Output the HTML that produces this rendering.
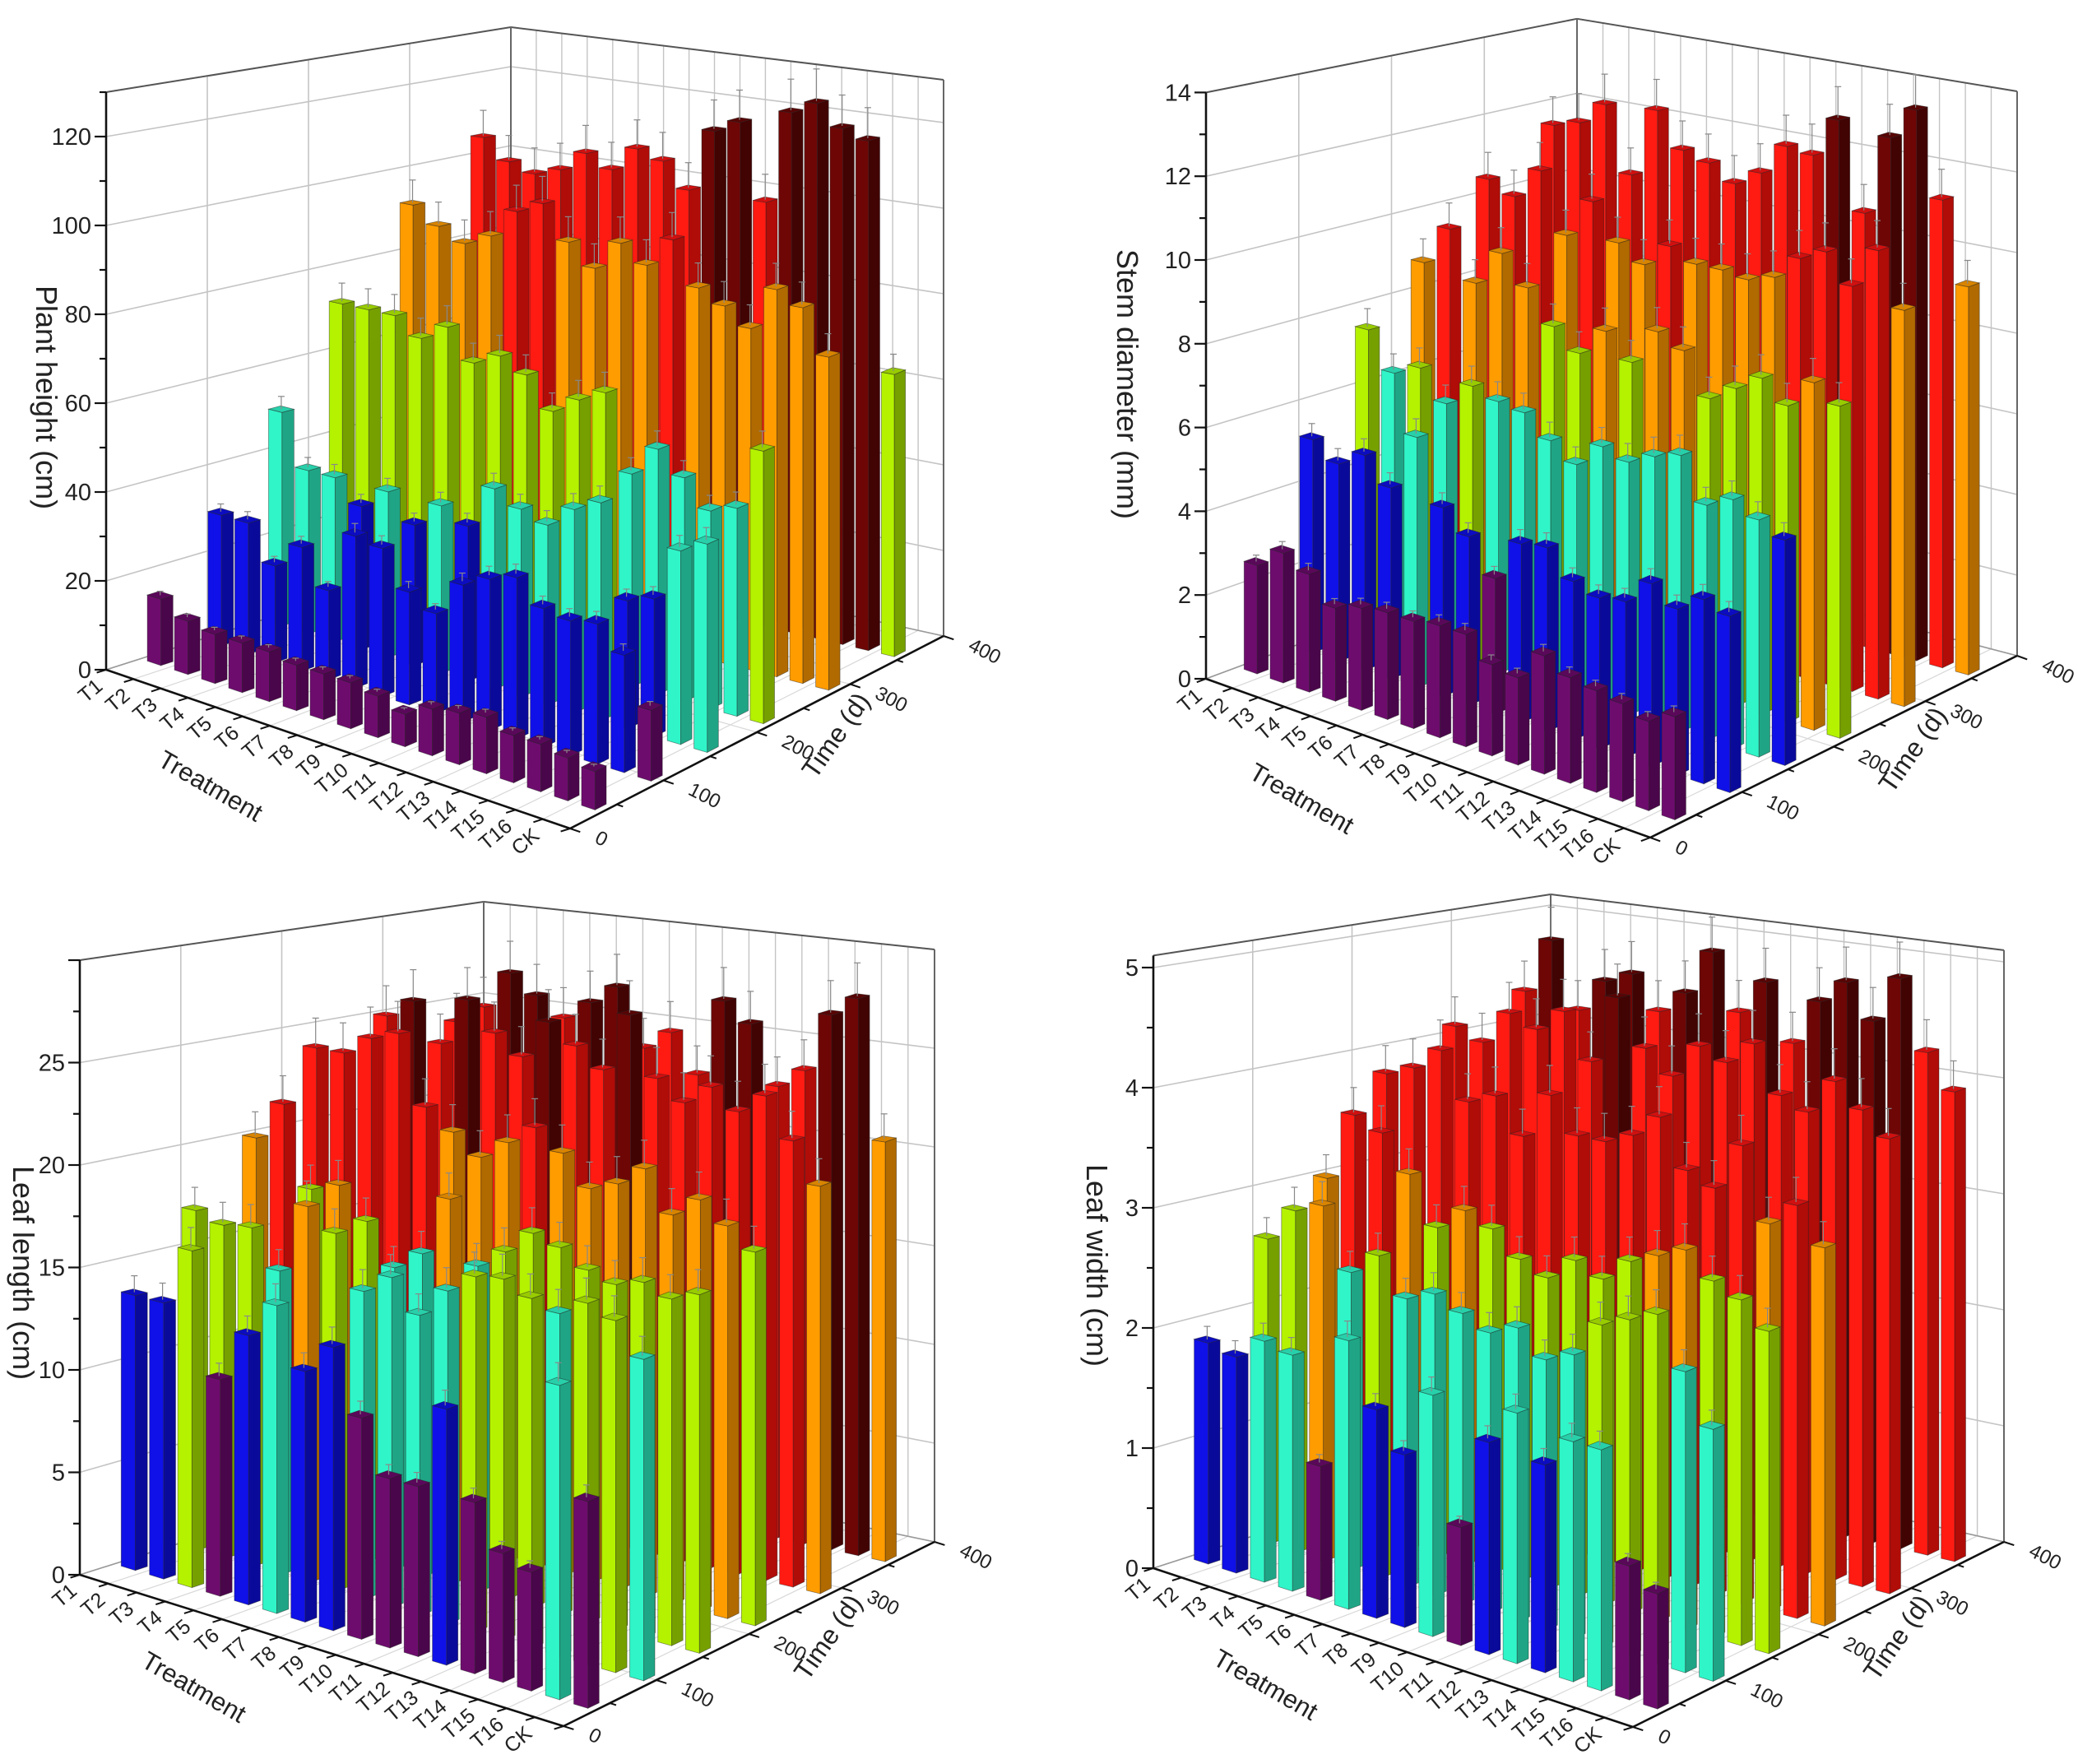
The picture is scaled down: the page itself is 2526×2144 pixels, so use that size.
<!DOCTYPE html>
<html><head><meta charset="utf-8"><style>
html,body{margin:0;padding:0;background:#fff;}
svg{display:block;font-family:"Liberation Sans",Arial,sans-serif;}
</style></head><body>
<svg id="fig" width="2526" height="2144" viewBox="0 0 2526 2144" xmlns="http://www.w3.org/2000/svg"></svg>
<script>
// ---- shared data ----
const treatments = ["T1","T2","T3","T4","T5","T6","T7","T8","T9","T10","T11","T12","T13","T14","T15","T16","CK"];
const times = [40,100,160,220,290,360];
const timeTicks = [0,100,200,300,400];

// Panel 1: plant height (cm)
const p1Ticks = [0,20,40,60,80,100,120];
const p1Cuts = [18.6,37,56,74,93,111];
const p1t1 = [15,12,11,11,11,10,10,10,9,7,10,11,12,10,10,9,8];
const p1t2 = [30,30,22,28,20,34,33,25,22,30,33,35,30,29,30,25,15];
const p1t3 = [50,38,38,33,38,32,38,35,45,42,40,45,48,28,30,42,45];
const p1t4 = [72,72,72,68,72,65,68,65,58,62,65,48,55,50,44,46,60];
const p1t5 = [92,88,85,88,95,98,90,85,92,88,95,85,82,78,88,85,75];
const p1t6 = [105,100,98,100,105,102,108,106,100,115,118,100,122,125,120,118,65];

// Panel 2: stem diameter (mm)
const p2Ticks = [0,2,4,6,8,10,12,14];
const p2Cuts = [3.3,5.3,6.8,8.2,9.8,12.7];
const p2t1 = [2.6,3.1,2.8,2.2,2.4,2.5,2.5,2.6,2.6,2.1,2.0,2.7,2.4,2.3,2.2,2.0,2.3];
const p2t2 = [5.2,4.8,5.2,4.6,6.0,4.5,4.0,3.2,4.2,4.3,3.7,3.5,3.6,4.2,3.8,4.2,4.0];
const p2t3 = [7.5,6.6,6.9,6.2,6.8,6.6,6.5,6.0,5.6,6.2,6.0,6.3,6.5,5.5,5.8,5.5,5.2];
const p2t4 = [8.8,9.8,8.6,9.5,8.8,8.0,7.5,8.2,7.6,8.5,8.2,7.2,7.6,8.0,7.5,8.2,7.8];
const p2t5 = [10.5,10.2,11.0,9.5,10.5,9.6,9.2,9.8,9.5,9.5,9.4,9.6,10.2,10.5,9.8,10.8,9.5];
const p2t6 = [11.5,11.7,12.3,10.6,12.4,11.5,11.3,10.9,11.3,12.1,12.0,13.0,10.8,12.8,13.6,11.5,9.5];

// Panel 3: leaf length (cm)
const p3Ticks = [0,5,10,15,20,25];
const p3Cuts = [11.5,14.3,16.3,18.5,21.5,26];
const p3t1 = [13.5,13.5,16.4,10.5,13,14.8,12,13.5,10.5,8,8,12,8,6,5.5,14.5,9.5];
const p3t2 = [17,16.6,16.8,15,18.5,17.5,15,16,14.5,16,17,17.2,16.6,16.2,17,16.5,15];
const p3t3 = [20,22,18,18.5,17,15,16,19,16,17,18.2,17.8,17,16.6,17,16.5,17];
const p3t4 = [24,24,25,25.5,22,21,20,21,22,21,19.5,20,21,19,20,19,18];
const p3t5 = [25,26,24,26.5,25,24,26,25,24,27,24,23,24,23,24,22,20];
const p3t6 = [24,25,27,26,25,26,27,24,25,23,27,26,23,24,27,28,21];

// Panel 4: leaf width (cm)
const p4Ticks = [0,1,2,3,4,5];
const p4Cuts = [1.2,1.9,2.6,3.0,3.4,4.5];
const p4t1 = [1.85,1.8,2.0,1.95,1.1,2.2,1.7,1.4,1.95,0.95,1.7,2.0,1.65,1.9,1.9,1.05,0.9];
const p4t2 = [2.6,2.9,3.0,2.5,2.7,2.4,2.5,2.4,2.3,2.4,2.2,2.3,2.6,2.7,2.8,2.4,2.0];
const p4t3 = [3.0,3.6,3.5,3.2,2.8,3.0,2.9,2.7,2.6,2.8,2.7,2.9,3.0,3.1,2.9,2.8,2.6];
const p4t4 = [3.8,3.9,4.1,3.7,3.8,3.5,3.9,3.6,3.6,3.7,3.9,3.5,3.4,3.8,3.2,3.4,3.1];
const p4t5 = [4.1,4.0,4.3,4.2,4.4,4.0,4.6,4.2,4.0,4.3,4.2,4.4,4.0,3.9,4.2,4.0,3.8];
const p4t6 = [4.3,4.8,4.2,4.5,4.6,4.3,4.5,4.9,4.4,4.7,4.2,4.6,4.8,4.5,4.9,4.3,4.0];

const palette = [
  ["#6e0c6e","#4a064a","#5a085a"],
  ["#1010e8","#0a0a9a","#0c0cc0"],
  ["#30f5c8","#1fa585","#28d0aa"],
  ["#b4f200","#76a000","#98cc00"],
  ["#ff9c00","#b06a00","#d88400"],
  ["#ff1a12","#b00c08","#d01010"],
  ["#6e0606","#420303","#580404"]
];

const panels = [
  {name:"plant-height", label:"Plant height (cm)", rows:[p1t1,p1t2,p1t3,p1t4,p1t5,p1t6], ticks:p1Ticks, cuts:p1Cuts, zmax:130,
   L:[129,814], F:[693,1007], R:[1147,773], B:[621,657], k:[5.4,5.9,5.2,4.8], tpos:[44,483]},
  {name:"stem-diameter", label:"Stem diameter (mm)", rows:[p2t1,p2t2,p2t3,p2t4,p2t5,p2t6], ticks:p2Ticks, cuts:p2Cuts, zmax:14,
   L:[1466,825], F:[2006,1018], R:[2452,797], B:[1917,657], k:[50.9,55,49,45.3], tpos:[1358,467]},
  {name:"leaf-length", label:"Leaf length (cm)", rows:[p3t1,p3t2,p3t3,p3t4,p3t5,p3t6], ticks:p3Ticks, cuts:p3Cuts, zmax:30,
   L:[97,1914], F:[685,2098], R:[1136,1874], B:[588,1759], k:[24.9,26.7,24,22.1], tpos:[16,1547]},
  {name:"leaf-width", label:"Leaf width (cm)", rows:[p4t1,p4t2,p4t3,p4t4,p4t5,p4t6], ticks:p4Ticks, cuts:p4Cuts, zmax:5.1,
   L:[1402,1906], F:[1985,2099], R:[2436,1874], B:[1885,1750], k:[146,157,141,130], tpos:[1321,1538]}
];

const NS="http://www.w3.org/2000/svg";
const svg=document.getElementById("fig");
function mk(tag,attrs,parent){const e=document.createElementNS(NS,tag);for(const a in attrs)e.setAttribute(a,attrs[a]);(parent||svg).appendChild(e);return e;}

function drawPanel(p){
  const g=mk("g",{});
  
  
  const N=treatments.length;
  function floor(u,v){
    const a=(1-u)*(1-v),b=u*(1-v),c=u*v,d=(1-u)*v;
    return [a*p.L[0]+b*p.F[0]+c*p.R[0]+d*p.B[0], a*p.L[1]+b*p.F[1]+c*p.R[1]+d*p.B[1], a*p.k[0]+b*p.k[1]+c*p.k[2]+d*p.k[3]];
  }
  function P(u,v,z){const f=floor(u,v);return [f[0],f[1]-f[2]*z];}
  function line(a,b,stroke,w,par,nm){
    const l=mk("line",{x1:a[0].toFixed(1),y1:a[1].toFixed(1),x2:b[0].toFixed(1),y2:b[1].toFixed(1),stroke:stroke,"stroke-width":w},par);
    
    
    return l;
  }
  const grid="#c4c4c4";
  p.ticks.forEach(z=>line(P(0,0,z),P(0,1,z),grid,1.6,g,'wall-gridline'));
  timeTicks.forEach(t=>line(P(0,t/400,0),P(0,t/400,p.zmax),grid,1.6,g,'wall-gridline'));
  p.ticks.forEach(z=>line(P(0,1,z),P(1,1,z),grid,1.6,g,'wall-gridline'));
  for(let i=0;i<=N;i++)line(P(i/N,1,0),P(i/N,1,p.zmax),grid,1.4,g,'wall-gridline');
  for(let i=0;i<=N;i++)line(P(i/N,0,0),P(i/N,1,0),"#d8d8d8",1.2,g,'floor-gridline');
  timeTicks.forEach(t=>line(P(0,t/400,0),P(1,t/400,0),"#d8d8d8",1.2,g,'floor-gridline'));
  line(P(0,0,p.zmax),P(0,1,p.zmax),"#555",2,g,'box-edge');
  line(P(0,1,p.zmax),P(1,1,p.zmax),"#555",2,g,'box-edge');
  line(P(0,1,0),P(0,1,p.zmax),"#666",2,g,'box-edge');
  line(P(1,1,0),P(1,1,p.zmax),"#666",2,g,'box-edge');
  line(P(0,1,0),P(1,1,0),"#999",1.5,g,'box-edge');
  line(P(0,0,0),P(0,1,0),"#999",1.5,g,'box-edge');

  const du=0.5/N, dv=6/400;
  for(let r=p.rows.length-1;r>=0;r--){
    const vals=p.rows[r]; const vc=times[r]/400;
    for(let i=0;i<N;i++){
      const z=vals[i]; const uc=(i+0.5)/N;
      let ci=0; while(ci<p.cuts.length && z>=p.cuts[ci])ci++;
      const col=palette[ci];
      const u0=uc-du/2,u1=uc+du/2,v0=vc-dv,v1=vc+dv;
      const bg=mk("g",{},g);
      
      
      const pts=a=>a.map(q=>q[0].toFixed(1)+","+q[1].toFixed(1)).join(" ");
      const side=mk("polygon",{points:pts([P(u1,v0,0),P(u1,v1,0),P(u1,v1,z),P(u1,v0,z)]),fill:col[1],stroke:"#222","stroke-width":0.8,"stroke-opacity":0.5},bg);
      
      
      const fr=mk("polygon",{points:pts([P(u0,v0,0),P(u1,v0,0),P(u1,v0,z),P(u0,v0,z)]),fill:col[0],stroke:"#222","stroke-width":0.8,"stroke-opacity":0.5},bg);
      
      
      const tp=mk("polygon",{points:pts([P(u0,v0,z),P(u1,v0,z),P(u1,v1,z),P(u0,v1,z)]),fill:col[2],stroke:"#222","stroke-width":0.8,"stroke-opacity":0.5},bg);
      
      
      const et=P(uc,vc,z), eh=P(uc,vc,z*1.06);
      line(et,eh,"#888",1.2,bg,'error-bar');
      line([eh[0]-4,eh[1]],[eh[0]+4,eh[1]],"#888",1.2,bg,'error-bar-cap');
    }
  }

  line(P(0,0,0),P(0,0,p.zmax),"#111",2.6,g,'z-axis-line');
  const step=p.ticks[1]-p.ticks[0];
  for(let z=0;z<=p.zmax+1e-9;z+=step/2){
    const a=P(0,0,z);
    line(a,[a[0]-(Math.abs((z/step)%1)<1e-6?14:8),a[1]],"#111",2.2,g,'z-axis-tick');
  }
  p.ticks.forEach(z=>{
    const a=P(0,0,z);
    const t=mk("text",{x:(a[0]-18).toFixed(1),y:(a[1]+10).toFixed(1),"text-anchor":"end","font-size":29,fill:"#222"},g);
    t.textContent=z;
    
    
  });
  line(P(0,0,0),P(1,0,0),"#111",2.6,g,'treatment-axis-line');
  const Lb=P(0,0,0),Bb=P(0,1,0);
  const ol=Math.hypot(Lb[0]-Bb[0],Lb[1]-Bb[1]);const od=[(Lb[0]-Bb[0])/ol,(Lb[1]-Bb[1])/ol];
  for(let i=0;i<=N;i++){const a=P(i/N,0,0);line(a,[a[0]+od[0]*12,a[1]+od[1]*12],"#111",2,g,'treatment-tick');}
  treatments.forEach((nm,i)=>{
    const a=P((i+0.5)/N,0,0);
    const x=a[0]+od[0]*16-4,y=a[1]+od[1]*16+12;
    const t=mk("text",{x:x.toFixed(1),y:y.toFixed(1),"text-anchor":"end","font-size":25,fill:"#222",transform:`rotate(-40 ${x.toFixed(1)} ${y.toFixed(1)})`},g);
    t.textContent=nm;
    
    
  });
  line(P(1,0,0),P(1,1,0),"#111",2.6,g,'time-axis-line');
  const Fb=P(1,0,0);
  const ol2=Math.hypot(Fb[0]-Lb[0],Fb[1]-Lb[1]);const od2=[(Fb[0]-Lb[0])/ol2,(Fb[1]-Lb[1])/ol2];
  for(let t=0;t<=400;t+=50){const a=P(1,t/400,0);const len=(t%100===0)?13:8;line(a,[a[0]+od2[0]*len,a[1]+od2[1]*len],"#111",2,g,'time-tick');}
  timeTicks.forEach(tv=>{
    const a=P(1,tv/400,0);
    const x=a[0]+od2[0]*26+4,y=a[1]+od2[1]*26+8;
    const t=mk("text",{x:x.toFixed(1),y:y.toFixed(1),"text-anchor":"start","font-size":24,fill:"#222",transform:`rotate(27 ${x.toFixed(1)} ${y.toFixed(1)})`},g);
    t.textContent=tv;
    
    
  });
  const tz=mk("text",{x:p.tpos[0],y:p.tpos[1],"text-anchor":"middle","font-size":36,fill:"#222",transform:`rotate(90 ${p.tpos[0]} ${p.tpos[1]})`},g);
  tz.textContent=p.label;
  
  
  const m1=P(0.5,0,0);
  const tx=m1[0]+od[0]*95-70,ty=m1[1]+od[1]*95+25;
  const tt=mk("text",{x:tx.toFixed(1),y:ty.toFixed(1),"text-anchor":"middle","font-size":31,fill:"#222",transform:`rotate(30 ${tx.toFixed(1)} ${ty.toFixed(1)})`},g);
  tt.textContent="Treatment";
  
  
  const m2=P(1,0.5,0);
  const sx=m2[0]+105,sy=m2[1]+10;
  const ts=mk("text",{x:sx.toFixed(1),y:sy.toFixed(1),"text-anchor":"middle","font-size":32,fill:"#222",transform:`rotate(-55 ${sx.toFixed(1)} ${sy.toFixed(1)})`},g);
  ts.textContent="Time (d)";
  
  
}
panels.forEach(drawPanel);
</script>
</body></html>
